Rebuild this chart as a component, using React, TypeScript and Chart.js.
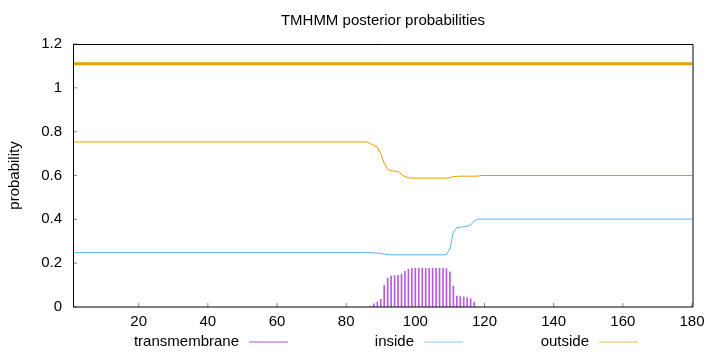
import React, { useEffect, useRef } from "react";
import { Chart, registerables } from "chart.js";

Chart.register(...registerables);

const TITLE = "TMHMM posterior probabilities";
const Y_TITLE = "probability";
const X_TICKS = [20, 40, 60, 80, 100, 120, 140, 160, 180];
const Y_TICKS = [0, 0.2, 0.4, 0.6, 0.8, 1, 1.2];
const Y_TICK_LABELS = ["0", "0.2", "0.4", "0.6", "0.8", "1", "1.2"];

const PURPLE = "#9400d3";
const BAR_PURPLE = "rgba(148,0,211,0.65)";
const BLUE = "#56b4e9";
const ORANGE = "#e69f00";

// transmembrane posterior (impulses)
const tmPos = [
  87, 88, 89, 90, 91, 92, 93, 94, 95, 96, 97, 98, 99, 100, 101, 102, 103, 104,
  105, 106, 107, 108, 109, 110, 111, 112, 113, 114, 115, 116, 117,
];
const tmProb = [
  0.004, 0.015, 0.023, 0.035, 0.099, 0.132, 0.141, 0.143, 0.145, 0.15, 0.163,
  0.172, 0.177, 0.177, 0.177, 0.177, 0.177, 0.177, 0.177, 0.177, 0.177, 0.177,
  0.175, 0.16, 0.096, 0.05, 0.048, 0.046, 0.043, 0.038, 0.022,
];

// inside posterior
const insidePos = [
  1, 86, 87, 88, 89, 90, 91, 92, 93, 108, 109, 110, 111, 112, 113, 114, 115,
  116, 117, 118, 180,
];
const insideProb = [
  0.248, 0.248, 0.248, 0.247, 0.246, 0.244, 0.242, 0.24, 0.238, 0.238, 0.24,
  0.265, 0.342, 0.362, 0.364, 0.366, 0.368, 0.375, 0.392, 0.401, 0.401,
];

// outside posterior
const outsidePos = [
  1, 86, 87, 88, 89, 90, 91, 92, 93, 94, 95, 96, 97, 98, 99, 109, 110, 111,
  112, 113, 118, 119, 180,
];
const outsideProb = [
  0.753, 0.753, 0.745, 0.738, 0.73, 0.7, 0.655, 0.628, 0.622, 0.62, 0.618,
  0.605, 0.595, 0.59, 0.588, 0.588, 0.59, 0.595, 0.596, 0.597, 0.597, 0.6, 0.6,
];

// predicted topology (whole sequence outside)
const topologyPos = [1, 180];
const topologyLevel = [1.11, 1.11];

const LEGEND_LABELS = ["transmembrane", "inside", "outside"];
const LEGEND_COLORS = [PURPLE, BLUE, ORANGE];

const FONT_FAMILY = "'Liberation Sans', Arial, sans-serif";
const FONT_SIZE = 15;

const toPoints = (xs: number[], ys: number[]) =>
  xs.map((x, i) => ({ x, y: ys[i] }));

const decorPlugin = {
  id: "decor",
  afterDatasetsDraw(chart: any) {
    const { ctx, chartArea: a, scales } = chart;
    ctx.save();
    ctx.strokeStyle = "#888";
    ctx.lineWidth = 1;
    ctx.beginPath();
    for (const v of X_TICKS) {
      const px = scales.x.getPixelForValue(v);
      ctx.moveTo(px, a.bottom);
      ctx.lineTo(px, a.bottom - 4);
    }
    for (const v of Y_TICKS) {
      const py = scales.y.getPixelForValue(v);
      ctx.moveTo(a.left, py);
      ctx.lineTo(a.left + 4, py);
    }
    ctx.stroke();

    ctx.strokeStyle = "#000";
    ctx.beginPath();
    ctx.moveTo(a.left + 0.5, a.bottom);
    ctx.lineTo(a.left + 0.5, a.top + 0.5);
    ctx.lineTo(a.right, a.top + 0.5);
    ctx.lineTo(a.right, a.bottom);
    ctx.lineTo(a.left + 0.5, a.bottom);
    ctx.stroke();
    ctx.restore();
  },
  afterDraw(chart: any) {
    const { ctx, chartArea: a } = chart;
    ctx.save();
    ctx.fillStyle = "#000";
    ctx.font = `${FONT_SIZE}px ${FONT_FAMILY}`;
    ctx.textBaseline = "middle";
    ctx.textAlign = "center";
    ctx.fillText(TITLE, (a.left + a.right) / 2, 21);

    ctx.save();
    ctx.translate(15, (a.top + a.bottom) / 2);
    ctx.rotate(-Math.PI / 2);
    ctx.fillText(Y_TITLE, 0, 0);
    ctx.restore();

    ctx.textAlign = "right";
    LEGEND_LABELS.forEach((label, i) => {
      const sx = 249 + 175 * i;
      const y = 342;
      ctx.fillStyle = "#000";
      ctx.fillText(label, sx - 10, y);
      ctx.strokeStyle = LEGEND_COLORS[i];
      ctx.globalAlpha = 0.7;
      ctx.lineWidth = 1;
      ctx.beginPath();
      ctx.moveTo(sx, y);
      ctx.lineTo(sx + 39, y);
      ctx.stroke();
      ctx.globalAlpha = 1;
    });
    ctx.restore();
  },
};

export default function App() {
  const ref = useRef<HTMLCanvasElement | null>(null);

  useEffect(() => {
    if (!ref.current) return;
    const font = { family: FONT_FAMILY, size: FONT_SIZE };
    const chart = new Chart(ref.current, {
      type: "line",
      data: {
        datasets: [
          {
            type: "line",
            label: "topology",
            data: toPoints(topologyPos, topologyLevel),
            borderColor: ORANGE,
            borderWidth: 3,
            pointRadius: 0,
            fill: false,
          },
          {
            type: "line",
            label: "outside",
            data: toPoints(outsidePos, outsideProb),
            borderColor: ORANGE,
            borderWidth: 1,
            pointRadius: 0,
            fill: false,
            tension: 0,
          },
          {
            type: "line",
            label: "inside",
            data: toPoints(insidePos, insideProb),
            borderColor: BLUE,
            borderWidth: 1,
            pointRadius: 0,
            fill: false,
            tension: 0,
          },
          {
            type: "bar",
            label: "transmembrane",
            data: toPoints(tmPos, tmProb),
            backgroundColor: BAR_PURPLE,
            borderWidth: 0,
            barThickness: 1,
            grouped: false,
          } as any,
        ],
      },
      options: {
        animation: false,
        responsive: false,
        devicePixelRatio: 1,
        layout: { padding: { top: 44, right: 27, bottom: 0, left: 0 } },
        plugins: {
          legend: { display: false },
          title: { display: false },
          tooltip: { enabled: false },
        },
        scales: {
          x: {
            type: "linear",
            min: 1,
            max: 180.3,
            offset: false,
            afterBuildTicks: (s: any) => {
              s.ticks = X_TICKS.map((v) => ({ value: v }));
            },
            afterFit: (s: any) => {
              s.height = 45;
            },
            ticks: {
              autoSkip: false,
              maxRotation: 0,
              minRotation: 0,
              padding: 6,
              color: "#000",
              font,
              callback: (v: any) => String(v),
            },
            grid: { display: false, drawTicks: false },
            border: { display: false },
          },
          y: {
            type: "linear",
            min: 0,
            max: 1.2,
            afterBuildTicks: (s: any) => {
              s.ticks = Y_TICKS.map((v) => ({ value: v }));
            },
            afterFit: (s: any) => {
              s.width = 73;
            },
            ticks: {
              padding: 11,
              color: "#000",
              font,
              callback: (_v: any, i: number) => Y_TICK_LABELS[i],
            },
            grid: { display: false, drawTicks: false },
            border: { display: false },
          },
        },
      },
      plugins: [decorPlugin],
    });
    return () => chart.destroy();
  }, []);

  return (
    <div style={{ position: "absolute", left: 0, top: 0, width: 720, height: 352, background: "#fff" }}>
      <canvas ref={ref} width={720} height={352} style={{ display: "block" }} />
    </div>
  );
}
